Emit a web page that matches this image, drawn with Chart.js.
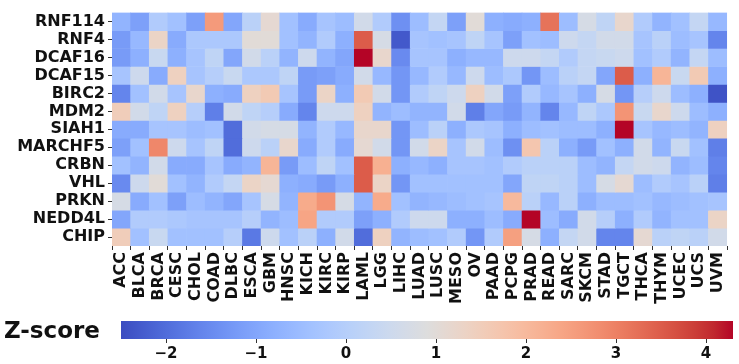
<!DOCTYPE html>
<html>
<head>
<meta charset="utf-8">
<script src="https://cdn.jsdelivr.net/npm/chart.js@4.4.0/dist/chart.umd.min.js"></script>
<style>
body { margin: 0; background: #fff; }
#wrap { position: relative; width: 739px; height: 364px; }
#heat { position: absolute; left: 0; top: 0; }
#bar { position: absolute; left: 0; top: 312px; }
#cbTitle { position: absolute; left: 4px; top: 317px; font: bold 23px 'DejaVu Sans', sans-serif; color: #111; }
</style>
</head>
<body>
<div id="wrap">
<canvas id="heat" width="739" height="312"></canvas>
<canvas id="bar" width="739" height="52"></canvas>
<div id="cbTitle">Z-score</div>
</div>
<script>
"use strict";
const genes = ["RNF114", "RNF4", "DCAF16", "DCAF15", "BIRC2", "MDM2", "SIAH1", "MARCHF5", "CRBN", "VHL", "PRKN", "NEDD4L", "CHIP"];
const cancers = ["ACC", "BLCA", "BRCA", "CESC", "CHOL", "COAD", "DLBC", "ESCA", "GBM", "HNSC", "KICH", "KIRC", "KIRP", "LAML", "LGG", "LIHC",
    "LUAD", "LUSC", "MESO", "OV", "PAAD", "PCPG", "PRAD", "READ", "SARC", "SKCM", "STAD", "TGCT", "THCA", "THYM", "UCEC", "UCS", "UVM"];
// one row per gene, columns follow cancers
const zScores = [
    [-0.7, -1.1, -0.1, -0.4, -1.1, 2.6, -1.0, 0.1, 1.1, -0.4, -0.9, -0.3, -0.5, 0.6, -0.1, -1.4, -0.5, 0.3, -1.1, 1.0, -0.8, -0.9, -0.8, 3.2, -0.5, 0.7, 0.2, 1.2, -0.1, -0.7, -0.4, 0.3, -0.6],
    [-1.2, -0.6, 1.3, -0.9, -0.2, -0.2, -0.2, 1.0, 1.0, -0.4, -0.7, -0.1, -0.8, 3.5, 0.7, -2.3, -0.3, -0.4, -0.3, 0.2, -0.3, -1.1, -0.4, -0.5, 0.5, 0.3, 0.6, 0.6, -0.3, 0.1, -0.5, -0.3, -1.6],
    [-1.2, -0.8, 0.4, -0.8, -0.3, 0.2, -1.0, 0.6, 0.1, -0.7, 0.5, -0.7, -1.0, 4.3, 1.2, -1.5, -0.3, -0.3, -0.8, -0.6, -0.6, 0.5, 0.5, 0.3, -0.1, 0.3, 0.4, 0.5, -0.4, -0.1, -0.7, 0.3, -0.5],
    [-0.3, 0.5, -0.9, 1.4, -0.3, 0.0, 0.4, -0.2, -0.2, 0.2, -1.2, -1.1, -0.9, 0.6, -0.6, -1.3, -0.6, -0.1, -0.6, 0.5, -0.5, -0.2, -1.3, -0.5, 0.1, 0.3, -1.0, 3.5, -0.8, 2.1, 0.4, 1.6, -0.8],
    [-1.6, -0.4, 0.6, -0.3, 1.2, -0.8, -0.9, 1.4, 1.6, -0.3, -1.2, 1.3, -0.8, 1.6, 0.6, -1.3, -0.1, 0.2, 0.5, 1.4, 0.6, -1.1, -0.1, -0.6, -0.3, -0.8, 0.7, -1.3, 0.0, 0.5, -0.5, -0.8, -2.4],
    [1.5, 0.6, 0.2, 1.4, 0.0, -1.7, 0.6, 0.2, 0.0, -0.9, -1.6, 0.5, 0.5, 1.4, -0.7, -0.5, -0.7, -0.7, 0.6, -1.7, -1.0, -1.2, -0.7, -1.6, -0.6, 0.2, -0.2, 2.7, 0.4, 1.2, 0.5, -0.5, -0.8],
    [-0.9, -0.9, -0.3, -0.3, -0.5, -0.4, -2.0, 0.6, 0.7, 0.7, -0.7, -0.1, -0.6, 1.2, 1.2, -1.3, -0.5, 0.1, -0.8, -0.2, -0.3, -0.8, -0.5, -0.4, -0.5, -0.5, -0.8, 4.3, -0.3, -0.6, -0.5, -0.7, 1.4],
    [-1.1, -0.4, 2.9, 0.5, -0.3, 0.2, -2.0, 0.5, 0.1, 1.2, -0.9, -0.1, -0.9, 1.1, 0.6, -1.3, 0.6, 1.3, -0.3, 0.6, -0.5, -1.4, 1.7, 0.1, -0.8, -1.2, -0.4, -0.8, 0.6, -0.7, 0.4, -0.4, -1.7],
    [-0.4, -0.7, 0.6, -0.9, -0.9, -0.3, -0.9, -0.7, 2.1, -1.2, -0.5, 0.2, -0.4, 3.5, 2.2, -0.8, -0.6, -0.8, -0.3, -0.3, -0.4, -0.1, 0.1, 0.1, 0.1, -0.5, -0.7, 0.3, 0.6, 0.5, -0.7, -0.5, -1.6],
    [-1.5, 0.5, 1.0, -0.4, -0.7, -0.1, 0.3, 1.3, 1.1, -0.8, -0.9, -1.2, -0.8, 3.5, 1.3, -1.3, -0.4, -0.4, -0.4, -0.4, -0.4, -1.0, 0.2, 0.2, 0.1, -0.5, 0.7, 1.1, -0.5, -0.1, -0.3, 0.1, -1.7],
    [0.7, -0.9, -0.4, -1.1, -0.5, -0.7, -1.0, -0.3, 0.7, -0.7, 2.3, 2.7, 0.7, -0.7, 2.3, -0.4, -0.7, -0.6, -0.5, -0.4, -0.3, 2.0, 0.1, -0.6, 0.1, -0.8, -0.5, -0.5, -0.4, -0.6, -0.5, -0.4, -0.3],
    [-1.0, -0.1, -0.1, -0.2, -0.3, -0.3, -0.3, 0.0, -0.7, -0.5, 2.4, -0.1, -0.1, -1.1, -0.8, -0.1, 0.5, 0.5, -0.8, -0.8, -0.5, -0.9, 4.3, -0.5, -0.9, 0.6, 0.0, -0.8, -0.1, -0.7, -0.4, -0.4, 1.3],
    [1.5, -0.4, 0.4, -0.4, -0.4, -0.4, 0.0, -1.8, 0.5, -0.4, 0.1, -0.8, 0.6, -2.0, 1.4, -0.7, -0.5, -0.4, -0.1, -1.3, -0.1, 2.5, 0.7, -0.8, 0.3, 0.6, -1.6, -1.6, 1.1, 0.1, 0.2, 0.1, 0.6]
];
const cbTicks = [-2, -1, 0, 1, 2, 3, 4];
const vmin = -2.5;
const vmax = 4.3;

// matplotlib coolwarm, 33 stops
const coolwarm = [[59, 76, 192], [68, 90, 204], [77, 104, 215], [87, 117, 225], [98, 130, 234], [108, 142, 241], [119, 154, 247], [130, 165, 251],
    [141, 176, 254], [152, 185, 255], [163, 194, 255], [174, 201, 253], [184, 208, 249], [194, 213, 244], [204, 217, 238], [213, 219, 230],
    [221, 221, 221], [229, 216, 209], [236, 211, 197], [241, 204, 184], [245, 196, 172], [247, 187, 159], [247, 177, 147], [247, 166, 134],
    [244, 154, 123], [241, 141, 111], [236, 127, 99], [229, 112, 88], [222, 96, 77], [213, 80, 66], [203, 62, 56], [192, 40, 47], [180, 4, 38]];
function cmap(v) {
    const t = Math.min(1, Math.max(0, (v - vmin) / (vmax - vmin)));
    const p = t * 32;
    const i = Math.min(31, Math.floor(p));
    const f = p - i;
    const a = coolwarm[i], b = coolwarm[i + 1];
    const c = a.map((x, k) => Math.round(x + (b[k] - x) * f));
    return `rgb(${c[0]},${c[1]},${c[2]})`;
}
function gradFill(ctx) {
    const area = ctx.chart.chartArea;
    if (!area) return cmap(1);
    const g = ctx.chart.ctx.createLinearGradient(area.left, 0, area.right, 0);
    coolwarm.forEach((c, i) => g.addColorStop(i / 32, `rgb(${c[0]},${c[1]},${c[2]})`));
    return g;
}

const fam = "'DejaVu Sans', sans-serif";
const labelFont = { family: fam, size: 16, weight: "bold" };

const datasets = genes.map((g, r) => ({
    label: g,
    data: cancers.map(() => [r, r + 1]),
    backgroundColor: zScores[r].map(cmap),
    borderWidth: 0,
    grouped: false,
    categoryPercentage: 1,
    barPercentage: 1
}));

new Chart(document.getElementById("heat"), {
    type: "bar",
    data: { labels: cancers, datasets: datasets },
    options: {
        responsive: false,
        animation: false,
        layout: { padding: { right: 2, top: 0 } },
        plugins: { legend: { display: false }, tooltip: { enabled: false } },
        scales: {
            x: {
                ticks: { font: labelFont, color: "#111", minRotation: 90, maxRotation: 90, autoSkip: false, padding: 2 },
                grid: { drawOnChartArea: false, tickLength: 4, color: "#333" },
                border: { display: false },
                afterFit: (s) => { s.height = 66; }
            },
            y: {
                min: 0,
                max: genes.length,
                reverse: true,
                afterBuildTicks: (axis) => { axis.ticks = genes.map((g, i) => ({ value: i + 0.5 })); },
                ticks: { callback: (v) => genes[Math.floor(v)], font: labelFont, color: "#111", padding: 3, autoSkip: false },
                grid: { drawOnChartArea: false, tickLength: 4, color: "#333" },
                border: { display: false },
                afterFit: (s) => { s.width = 112; }
            }
        }
    }
});

new Chart(document.getElementById("bar"), {
    type: "bar",
    data: {
        labels: ["Z-score"],
        datasets: [{ data: [[vmin, vmax]], backgroundColor: gradFill, borderWidth: 0, categoryPercentage: 1, barPercentage: 1 }]
    },
    options: {
        indexAxis: "y",
        responsive: false,
        animation: false,
        layout: { padding: { top: 9, right: 6 } },
        plugins: { legend: { display: false }, tooltip: { enabled: false } },
        scales: {
            x: {
                min: vmin,
                max: vmax,
                afterBuildTicks: (axis) => { axis.ticks = cbTicks.map(v => ({ value: v })); },
                ticks: { callback: (v) => String(v).replace("-", "\u2212"), font: { family: fam, size: 15, weight: "bold" }, color: "#111", padding: 2 },
                grid: { drawOnChartArea: false, tickLength: 4, color: "#333" },
                border: { display: false },
                afterFit: (s) => { s.height = 25; }
            },
            y: {
                ticks: { display: false },
                grid: { display: false },
                border: { display: false },
                afterFit: (s) => { s.width = 121; }
            }
        }
    }
});
</script>
</body>
</html>
